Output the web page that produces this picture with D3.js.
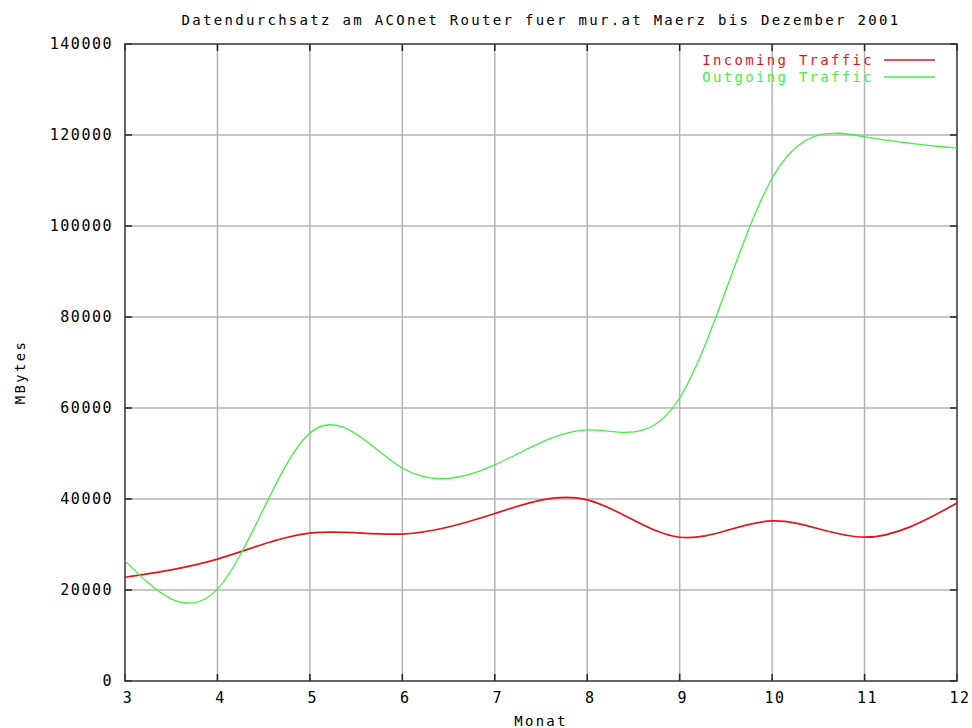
<!DOCTYPE html>
<html>
<head>
<meta charset="utf-8">
<script src="https://cdn.jsdelivr.net/npm/d3@7"></script>
<style>
  body { margin: 0; background: #fff; }
  text { font-family: "DejaVu Sans Mono", "Liberation Mono", monospace; fill: #000; }
</style>
</head>
<body>
<svg id="chart" width="972" height="728"></svg>
<script>
const months = [3, 4, 5, 6, 7, 8, 9, 10, 11, 12];
const incoming = [22800, 26800, 32500, 32300, 36800, 39800, 31600, 35200, 31600, 39100];
const outgoing = [26400, 20200, 54500, 46800, 47500, 55200, 62200, 110500, 119600, 117100];
const yTicks = [0, 20000, 40000, 60000, 80000, 100000, 120000, 140000];
const seriesNames = ["Incoming Traffic", "Outgoing Traffic"];
const seriesColors = ["#e0161e", "#44ee44"];

const width = 972;
const height = 728;
const margin = { top: 44, right: 15, bottom: 47, left: 125 };

const svg = d3.select("#chart");
const x = d3.scaleLinear().domain([3, 12]).range([margin.left, width - margin.right]);
const y = d3.scaleLinear().domain([0, 140000]).range([height - margin.bottom, margin.top]);

// grid
svg.append("g")
  .selectAll("line.hgrid")
  .data(yTicks.slice(1, -1))
  .join("line")
  .attr("x1", x(3)).attr("x2", x(12))
  .attr("y1", (d) => y(d)).attr("y2", (d) => y(d))
  .attr("stroke", "#b4b4b4").attr("stroke-width", 1.5);

svg.append("g")
  .selectAll("line.vgrid")
  .data(months.slice(1, -1))
  .join("line")
  .attr("x1", (d) => x(d)).attr("x2", (d) => x(d))
  .attr("y1", y(0)).attr("y2", y(140000))
  .attr("stroke", "#b4b4b4").attr("stroke-width", 1.5);

// ticks on the border
const tickLen = 7;
const ticks = svg.append("g").attr("stroke", "#222").attr("stroke-width", 1.5);
yTicks.forEach((t) => {
  ticks.append("line").attr("x1", x(3)).attr("x2", x(3) + tickLen).attr("y1", y(t)).attr("y2", y(t));
  ticks.append("line").attr("x1", x(12)).attr("x2", x(12) - tickLen).attr("y1", y(t)).attr("y2", y(t));
});
months.forEach((m) => {
  ticks.append("line").attr("x1", x(m)).attr("x2", x(m)).attr("y1", y(0)).attr("y2", y(0) - tickLen);
  ticks.append("line").attr("x1", x(m)).attr("x2", x(m)).attr("y1", y(140000)).attr("y2", y(140000) + tickLen);
});

// border
svg.append("rect")
  .attr("x", x(3)).attr("y", y(140000))
  .attr("width", x(12) - x(3)).attr("height", y(0) - y(140000))
  .attr("fill", "none").attr("stroke", "#333").attr("stroke-width", 1.5);

// tick labels
svg.append("g")
  .selectAll("text")
  .data(yTicks)
  .join("text")
  .attr("x", margin.left - 12)
  .attr("y", (d) => y(d) + 5)
  .attr("text-anchor", "end")
  .attr("font-size", 15)
  .attr("letter-spacing", 1.5)
  .text((d) => d);

svg.append("g")
  .selectAll("text")
  .data(months)
  .join("text")
  .attr("x", (d) => x(d) + 3)
  .attr("y", y(0) + 22)
  .attr("text-anchor", "middle")
  .attr("font-size", 15)
  .attr("letter-spacing", 1.5)
  .text((d) => d);

// titles
svg.append("text")
  .attr("x", 541).attr("y", 25)
  .attr("text-anchor", "middle")
  .attr("font-size", 14)
  .attr("letter-spacing", 2.3)
  .text("Datendurchsatz am ACOnet Router fuer mur.at Maerz bis Dezember 2001");

svg.append("text")
  .attr("x", 541).attr("y", 726)
  .attr("text-anchor", "middle")
  .attr("font-size", 14)
  .attr("letter-spacing", 2.3)
  .text("Monat");

svg.append("text")
  .attr("transform", "translate(25,372) rotate(-90)")
  .attr("text-anchor", "middle")
  .attr("font-size", 14)
  .attr("letter-spacing", 2.3)
  .text("MBytes");

// lines
const line = d3.line()
  .x((d) => x(d[0]))
  .y((d) => y(d[1]))
  .curve(d3.curveNatural);

const series = [incoming, outgoing];
series.forEach((vals, i) => {
  svg.append("path")
    .datum(months.map((m, j) => [m, vals[j]]))
    .attr("fill", "none")
    .attr("stroke", seriesColors[i])
    .attr("stroke-width", i === 0 ? 1.7 : 1.3)
    .attr("d", line);
});

// legend
const legend = svg.append("g");
seriesNames.forEach((name, i) => {
  const ly = 60 + i * 17;
  legend.append("text")
    .attr("x", 874).attr("y", ly + 5)
    .attr("text-anchor", "end")
    .attr("font-size", 14)
    .attr("letter-spacing", 2.3)
    .style("fill", seriesColors[i])
    .text(name);
  legend.append("line")
    .attr("x1", 884).attr("x2", 935)
    .attr("y1", ly).attr("y2", ly)
    .attr("stroke", seriesColors[i])
    .attr("stroke-width", i === 0 ? 1.7 : 1.3);
});
</script>
</body>
</html>
